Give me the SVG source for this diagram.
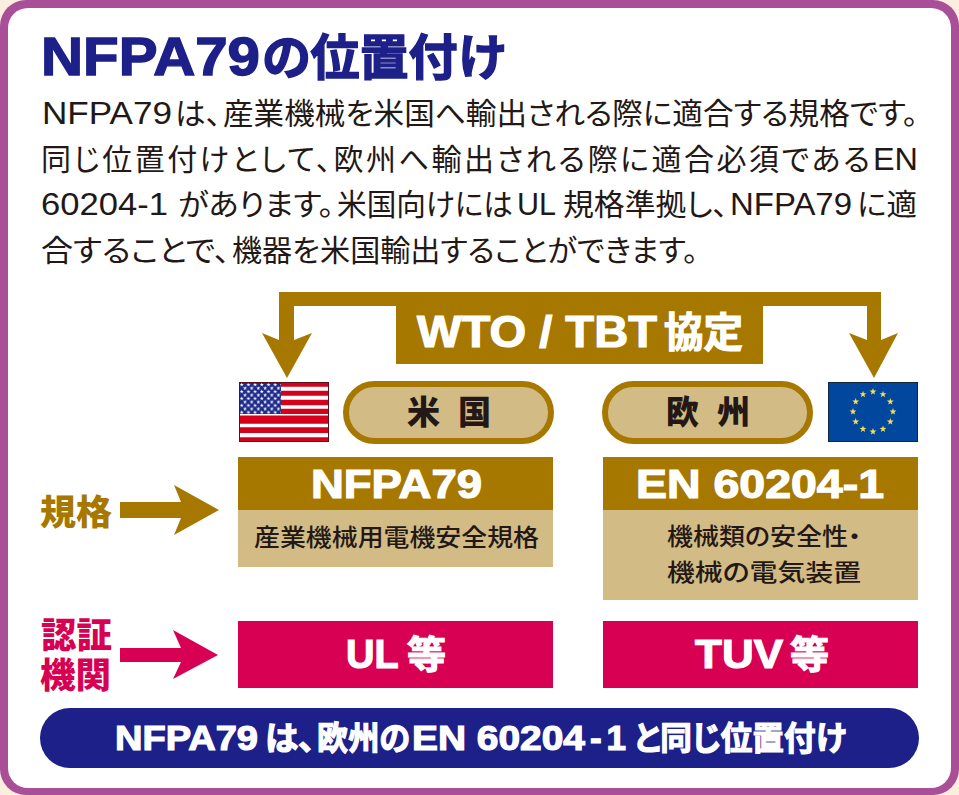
<svg xmlns="http://www.w3.org/2000/svg" xmlns:xlink="http://www.w3.org/1999/xlink" width="959" height="795" viewBox="0 0 959 795">
  <style>
    text { font-feature-settings: "palt"; }
    .body { font-family: "Liberation Sans", "Noto Sans CJK JP", sans-serif; font-size: 30px; font-weight: 400; fill: #231815; }
    .lat { font-size: 32px; }
    .heavy { font-family: "Liberation Sans", "Noto Sans CJK JP", sans-serif; font-weight: 700; }
    .jp { font-family: "Noto Sans CJK JP", sans-serif; }
    .white { fill: #fff; stroke: #fff; stroke-width: 1.2px; }
    .gold { fill: #a67800; }
    .sand { fill: #d3bb85; }
    .red { fill: #d80052; }
    .pill { fill: #d3bb85; stroke: #a67800; stroke-width: 6px; }
    .dark { fill: #231815; font-weight: 900; font-size: 33px; }
    .note { fill: #231815; font-size: 24px; font-weight: 500; }
  </style>
  <defs>
    <polygon id="star" points="0,-1 0.235,-0.324 0.951,-0.309 0.38,0.124 0.588,0.809 0,0.4 -0.588,0.809 -0.38,0.124 -0.951,-0.309 -0.235,-0.324"/>
    <pattern id="usStars" x="240" y="383" width="6.7" height="6.9" patternUnits="userSpaceOnUse">
      <use xlink:href="#star" href="#star" transform="translate(1.7 1.7) scale(2.1)" fill="#fff"/>
      <use xlink:href="#star" href="#star" transform="translate(5 5.2) scale(2.1)" fill="#fff"/>
    </pattern>
  </defs>

  <!-- panel -->
  <rect width="959" height="795" fill="#fbeee0"/>
  <rect x="0" y="0" width="959" height="795" rx="26" fill="#a84f98"/>
  <rect x="8" y="8" width="943" height="780" rx="20" fill="#fff"/>

  <!-- heading and description -->
  <g id="heading">
    <text class="heavy" y="75" font-size="54" fill="#1d2088" stroke="#1d2088" stroke-width="1.4"><tspan x="41" textLength="219" lengthAdjust="spacingAndGlyphs">NFPA79</tspan><tspan x="262" font-size="49" textLength="243" lengthAdjust="spacingAndGlyphs">の位置付け</tspan></text>
  </g>
  <g id="description">
    <text class="body" y="124"><tspan class="lat" x="42" textLength="130" lengthAdjust="spacingAndGlyphs">NFPA79</tspan><tspan x="175" textLength="46" lengthAdjust="spacingAndGlyphs">は、</tspan><tspan x="223" textLength="695" lengthAdjust="spacingAndGlyphs">産業機械を米国へ輸出される際に適合する規格です。</tspan></text>
    <text class="body" y="170"><tspan x="41" textLength="829" lengthAdjust="spacing">同じ位置付けとして、欧州へ輸出される際に適合必須である</tspan><tspan class="lat" x="873" textLength="45" lengthAdjust="spacingAndGlyphs">EN</tspan></text>
    <text class="body" y="215"><tspan class="lat" x="41" textLength="127" lengthAdjust="spacingAndGlyphs">60204-1</tspan><tspan x="178" textLength="156" lengthAdjust="spacingAndGlyphs">があります。</tspan><tspan x="337" textLength="176" lengthAdjust="spacingAndGlyphs">米国向けには</tspan><tspan class="lat" x="517" textLength="39" lengthAdjust="spacingAndGlyphs">UL</tspan><tspan x="563" textLength="165" lengthAdjust="spacingAndGlyphs">規格準拠し、</tspan><tspan class="lat" x="730" textLength="122" lengthAdjust="spacingAndGlyphs">NFPA79</tspan><tspan x="857" textLength="60" lengthAdjust="spacingAndGlyphs">に適</tspan></text>
    <text class="body" y="261"><tspan x="41" textLength="189" lengthAdjust="spacingAndGlyphs">合することで、</tspan><tspan x="232" textLength="466" lengthAdjust="spacingAndGlyphs">機器を米国輸出することができます。</tspan></text>
  </g>

  <!-- connectors -->
  <g id="connectors">
    <path class="gold" d="M279 292H881V340L898 333L874 378L849 333L867 340V306H294V340L312 333L287 378L262 333L279 340Z"/>
    <path class="gold" d="M120 502H181L174 485L219 510L174 535L181 518H120Z"/>
    <path class="red" d="M120 648H181L173 630L218 655L173 679L181 662H120Z"/>
  </g>

  <!-- agreement banner -->
  <g id="wto">
    <rect class="gold" x="396" y="304" width="367" height="60"/>
    <text class="heavy white" y="347" font-size="44"><tspan x="417" textLength="240" lengthAdjust="spacingAndGlyphs">WTO / TBT</tspan> <tspan x="664" font-size="41" textLength="79" lengthAdjust="spacingAndGlyphs">協定</tspan></text>
  </g>

  <!-- United States column -->
  <g id="flag-us">
    <rect x="239.500" y="382.500" width="89" height="59" fill="#d6001c" stroke="#5c1018"/>
    <path d="M240 386.700h88v4h-88zM240 395.700h88v4h-88zM240 405.300h88v3.500h-88zM240 414h88v1.400h-88zM240 423.700h88v3.600h-88zM240 433h88v4.300h-88z" fill="#fff"/>
    <rect x="240" y="383" width="41" height="31" fill="#1d2a8a"/>
    <rect x="240" y="383" width="41" height="31" fill="url(#usStars)"/>
  </g>
  <g id="region-us">
    <rect class="pill" x="346" y="384" width="205" height="57" rx="28.500"/>
    <text class="jp dark" x="407" y="424" textLength="84" lengthAdjust="spacing">米 国</text>
  </g>
  <g id="standard-us">
    <rect class="gold" x="238" y="457" width="315" height="53"/>
    <rect class="sand" x="238" y="510" width="315" height="57"/>
    <text class="heavy white" x="311" y="498" font-size="40" textLength="171" lengthAdjust="spacingAndGlyphs">NFPA79</text>
    <text class="jp note" x="254" y="546" textLength="285" lengthAdjust="spacingAndGlyphs">産業機械用電機安全規格</text>
  </g>
  <g id="cert-us">
    <rect class="red" x="238" y="621" width="315" height="67"/>
    <text class="heavy white" y="668" font-size="40"><tspan x="346" textLength="52" lengthAdjust="spacingAndGlyphs">UL</tspan> <tspan x="407" font-size="38" textLength="39" lengthAdjust="spacingAndGlyphs">等</tspan></text>
  </g>

  <!-- Europe column -->
  <g id="flag-eu">
    <rect x="828.500" y="382.500" width="89" height="59" fill="#00479d" stroke="#14243c"/>
    <g fill="#f5e050">
      <use href="#star" transform="translate(873 391.700) scale(3.600)"/>
      <use href="#star" transform="translate(883 394.400) scale(3.600)"/>
      <use href="#star" transform="translate(890.300 401.700) scale(3.600)"/>
      <use href="#star" transform="translate(893 411.700) scale(3.600)"/>
      <use href="#star" transform="translate(890.300 421.700) scale(3.600)"/>
      <use href="#star" transform="translate(883 429) scale(3.600)"/>
      <use href="#star" transform="translate(873 431.700) scale(3.600)"/>
      <use href="#star" transform="translate(863 429) scale(3.600)"/>
      <use href="#star" transform="translate(855.700 421.700) scale(3.600)"/>
      <use href="#star" transform="translate(853 411.700) scale(3.600)"/>
      <use href="#star" transform="translate(855.700 401.700) scale(3.600)"/>
      <use href="#star" transform="translate(863 394.400) scale(3.600)"/>
    </g>
  </g>
  <g id="region-eu">
    <rect class="pill" x="605" y="384" width="205" height="57" rx="28.500"/>
    <text class="jp dark" x="666" y="424" textLength="84" lengthAdjust="spacing">欧 州</text>
  </g>
  <g id="standard-eu">
    <rect class="gold" x="603" y="457" width="315" height="53"/>
    <rect class="sand" x="603" y="510" width="315" height="90"/>
    <text class="heavy white" x="636" y="498" font-size="40" textLength="248" lengthAdjust="spacingAndGlyphs">EN 60204-1</text>
    <text class="jp note" x="667" y="545" textLength="194" lengthAdjust="spacingAndGlyphs">機械類の安全性・</text>
    <text class="jp note" x="667" y="581" textLength="194" lengthAdjust="spacingAndGlyphs">機械の電気装置</text>
  </g>
  <g id="cert-eu">
    <rect class="red" x="603" y="621" width="315" height="67"/>
    <text class="heavy white" y="668" font-size="40"><tspan x="695" textLength="88" lengthAdjust="spacingAndGlyphs">TUV</tspan> <tspan x="790" font-size="38" textLength="39" lengthAdjust="spacingAndGlyphs">等</tspan></text>
  </g>

  <!-- row labels -->
  <g id="label-standard">
    <text class="jp" x="40" y="525" font-size="35" font-weight="900" fill="#a67800" textLength="72" lengthAdjust="spacingAndGlyphs">規格</text>
  </g>
  <g id="label-cert">
    <text class="jp" x="41" y="648" font-size="35" font-weight="900" fill="#d80052" textLength="71" lengthAdjust="spacingAndGlyphs">認証</text>
    <text class="jp" x="40" y="688" font-size="35" font-weight="900" fill="#d80052" textLength="71" lengthAdjust="spacingAndGlyphs">機関</text>
  </g>

  <!-- summary bar -->
  <g id="summary">
    <rect x="40" y="708" width="879" height="60" rx="30" fill="#1d2088"/>
    <text class="heavy white" y="750" font-size="35" stroke-width="0.8"><tspan x="115" textLength="143" lengthAdjust="spacingAndGlyphs">NFPA79</tspan><tspan x="265" font-size="33" textLength="50" lengthAdjust="spacingAndGlyphs">は、</tspan><tspan x="317" font-size="33" textLength="93" lengthAdjust="spacingAndGlyphs">欧州の</tspan><tspan x="412" textLength="173" lengthAdjust="spacingAndGlyphs">EN 60204</tspan><tspan x="590" textLength="36" lengthAdjust="spacing">-1</tspan><tspan x="634" font-size="33" textLength="212" lengthAdjust="spacingAndGlyphs">と同じ位置付け</tspan></text>
  </g>
</svg>
